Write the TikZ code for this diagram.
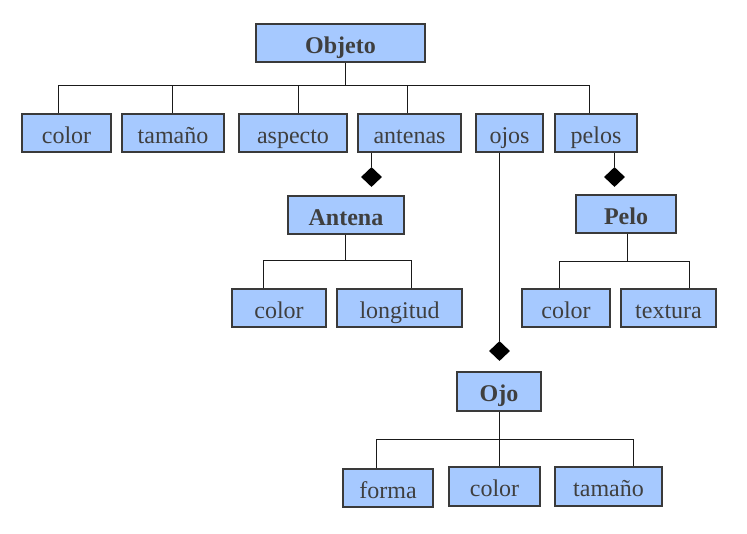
\documentclass[tikz,border=0pt]{standalone}
\usepackage{fontspec}
\setmainfont{Liberation Serif}
\usetikzlibrary{shapes.geometric}
\definecolor{boxfill}{HTML}{A6C9FF}
\definecolor{boxline}{HTML}{3A3A3A}
\definecolor{txt}{HTML}{3F3F3F}
\definecolor{wire}{HTML}{1A1A1A}
\tikzset{
  box/.style={draw=boxline, line width=1.2pt, fill=boxfill, text=txt,
    inner sep=0pt, minimum height=38pt, text height=20pt, text depth=0pt,
    font=\fontsize{24}{28}\selectfont},
  cls/.style={box, font=\fontsize{24}{28}\selectfont\bfseries},
  dia/.style={diamond, fill=black, draw=none, inner sep=0pt, minimum width=21pt, minimum height=20pt},
  wire/.style={draw=wire, line width=1pt}
}
\begin{document}
\begin{tikzpicture}[x=1pt,y=-1pt]
\useasboundingbox (0,0) rectangle (747,533);
% nodes
\node[cls, minimum width=169pt] (obj) at (340.5,43) {Objeto};
\node[box, minimum width=89pt]  (c1)  at (66.5,133) {color};
\node[box, minimum width=102pt] (t1)  at (173,133) {tamaño};
\node[box, minimum width=108pt] (asp) at (293,133) {aspecto};
\node[box, minimum width=103pt] (ant) at (409.5,133) {antenas};
\node[box, minimum width=67pt]  (ojos) at (509.5,133) {ojos};
\node[box, minimum width=82pt]  (pel) at (596,133) {pelos};
\node[cls, minimum width=116pt] (Ant) at (346,215) {Antena};
\node[box, minimum width=94pt]  (c2)  at (279,308) {color};
\node[box, minimum width=125pt] (lon) at (399.5,308) {longitud};
\node[cls, minimum width=100pt] (Pel) at (626,214) {Pelo};
\node[box, minimum width=88pt]  (c3)  at (566,308) {color};
\node[box, minimum width=95pt]  (tex) at (668.5,308) {textura};
\node[cls, minimum width=84pt, minimum height=39pt] (Ojo) at (499,391.5) {Ojo};
\node[box, minimum width=90pt]  (for) at (388,488) {forma};
\node[box, minimum width=91pt, minimum height=39pt] (c4) at (494.5,486.5) {color};
\node[box, minimum width=107pt, minimum height=39pt] (t2) at (608.5,486.5) {tamaño};
\node[dia] (d1) at (371.5,177) {};
\node[dia] (d2) at (614.5,177) {};
\node[dia] (d3) at (499.5,351) {};
% top bus
\coordinate (b0) at (345,85);
\coordinate (bL) at (58,85);
\coordinate (b2) at (172,85);
\coordinate (b3) at (298,85);
\coordinate (b4) at (407,85);
\coordinate (bR) at (589,85);
\draw[wire] (obj.south -| b0) -- (b0);
\draw[wire] (bL) -- (bR);
\draw[wire] (bL) -- (c1.north -| bL);
\draw[wire] (b2) -- (t1.north -| b2);
\draw[wire] (b3) -- (asp.north -| b3);
\draw[wire] (b4) -- (ant.north -| b4);
\draw[wire] (bR) -- (pel.north -| bR);
% aggregations
\draw[wire] (ant.south -| d1) -- (d1.north);
\draw[wire] (pel.south -| d2) -- (d2.north);
\draw[wire] (ojos.south -| d3) -- (d3.north);
% Antena bus
\coordinate (a0) at (345,260);
\coordinate (aL) at (263,260);
\coordinate (aR) at (411,260);
\draw[wire] (Ant.south -| a0) -- (a0);
\draw[wire] (aL) -- (aR);
\draw[wire] (aL) -- (c2.north -| aL);
\draw[wire] (aR) -- (lon.north -| aR);
% Pelo bus
\coordinate (p0) at (627,261);
\coordinate (pL) at (559,261);
\coordinate (pR) at (689,261);
\draw[wire] (Pel.south -| p0) -- (p0);
\draw[wire] (pL) -- (pR);
\draw[wire] (pL) -- (c3.north -| pL);
\draw[wire] (pR) -- (tex.north -| pR);
% Ojo bus
\coordinate (o0) at (499,439);
\coordinate (oL) at (376,439);
\coordinate (oR) at (633,439);
\draw[wire] (Ojo.south -| o0) -- (o0);
\draw[wire] (oL) -- (oR);
\draw[wire] (oL) -- (for.north -| oL);
\draw[wire] (o0) -- (c4.north -| o0);
\draw[wire] (oR) -- (t2.north -| oR);
\end{tikzpicture}
\end{document}
